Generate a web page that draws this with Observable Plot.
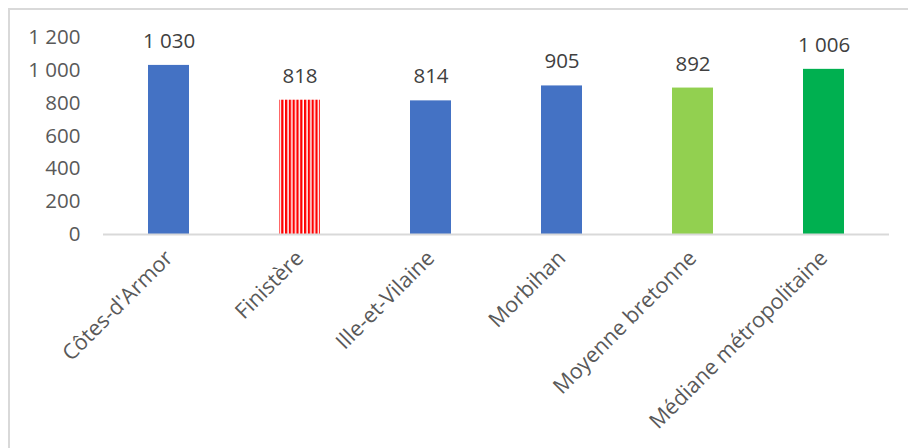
<!DOCTYPE html>
<html>
<head>
<meta charset="utf-8">
<script src="https://cdn.jsdelivr.net/npm/d3@7"></script>
<script src="https://cdn.jsdelivr.net/npm/@observablehq/plot@0.6"></script>
<style>
  html, body { margin: 0; padding: 0; background: #fff; overflow: hidden; }
  #wrap { position: relative; width: 908px; height: 448px; overflow: hidden; }
  #frame { position: absolute; left: 8px; top: 8px; width: 960px; height: 520px; border: 2px solid #d9d9d9; box-sizing: border-box; }
  #chart { position: absolute; left: 0; top: 0; }
</style>
</head>
<body>
<div id="wrap"><div id="frame"></div><div id="chart"></div></div>
<script>
const categories = ["Côtes-d'Armor", "Finistère", "Ille-et-Vilaine", "Morbihan", "Moyenne bretonne", "Médiane métropolitaine"];
const values = [1030, 818, 814, 905, 892, 1006];
const yTicks = [0, 200, 400, 600, 800, 1000, 1200];

// styles (kept apart from the data)
const barFill = {
  "Côtes-d'Armor": "#4472C4",
  "Finistère": "url(#stripes)",
  "Ille-et-Vilaine": "#4472C4",
  "Morbihan": "#4472C4",
  "Moyenne bretonne": "#92D050",
  "Médiane métropolitaine": "#00B050"
};

const data = categories.map((c, i) => ({category: c, value: values[i]}));
const fmt = d3.formatLocale({decimal: ",", thousands: " ", grouping: [3], currency: ["", " €"]}).format(",d");
const font = "'Open Sans', Lato, sans-serif";

const chart = Plot.plot({
  width: 908,
  height: 448,
  marginLeft: 103,
  marginRight: 19,
  marginTop: 37,
  marginBottom: 214,
  style: {fontFamily: font, fontSize: "20px", color: "#595959", background: "transparent"},
  x: {domain: categories, paddingInner: 0.69, paddingOuter: 0.345, label: null},
  y: {domain: [0, 1200], label: null},
  color: {type: "identity"},
  marks: [
    Plot.barY(data, {x: "category", y: "value", fill: d => barFill[d.category]}),
    Plot.ruleY([0], {stroke: "#d9d9d9", strokeWidth: 2}),
    Plot.axisY({ticks: yTicks, tickFormat: fmt, tickSize: 0, tickPadding: 23, label: null, fill: "#595959", fontSize: 20.5}),
    Plot.axisX({tickSize: 0, tickRotate: -45, tickPadding: 20, label: null, fill: "#595959", fontSize: 21.5}),
    Plot.text(data, {x: "category", y: "value", text: d => fmt(d.value), dy: -24, fill: "#404040", fontSize: 20.5})
  ]
});

// stripe pattern for Finistère
const svgNS = "http://www.w3.org/2000/svg";
const defs = document.createElementNS(svgNS, "defs");
defs.innerHTML = '<pattern id="stripes" patternUnits="userSpaceOnUse" x="0" y="0" width="3.8" height="10"><rect width="3.8" height="10" fill="#ffffff"/><rect width="2.3" height="10" fill="#ff0000"/></pattern>';
chart.insertBefore(defs, chart.firstChild);

document.getElementById("chart").appendChild(chart);
</script>
</body>
</html>
